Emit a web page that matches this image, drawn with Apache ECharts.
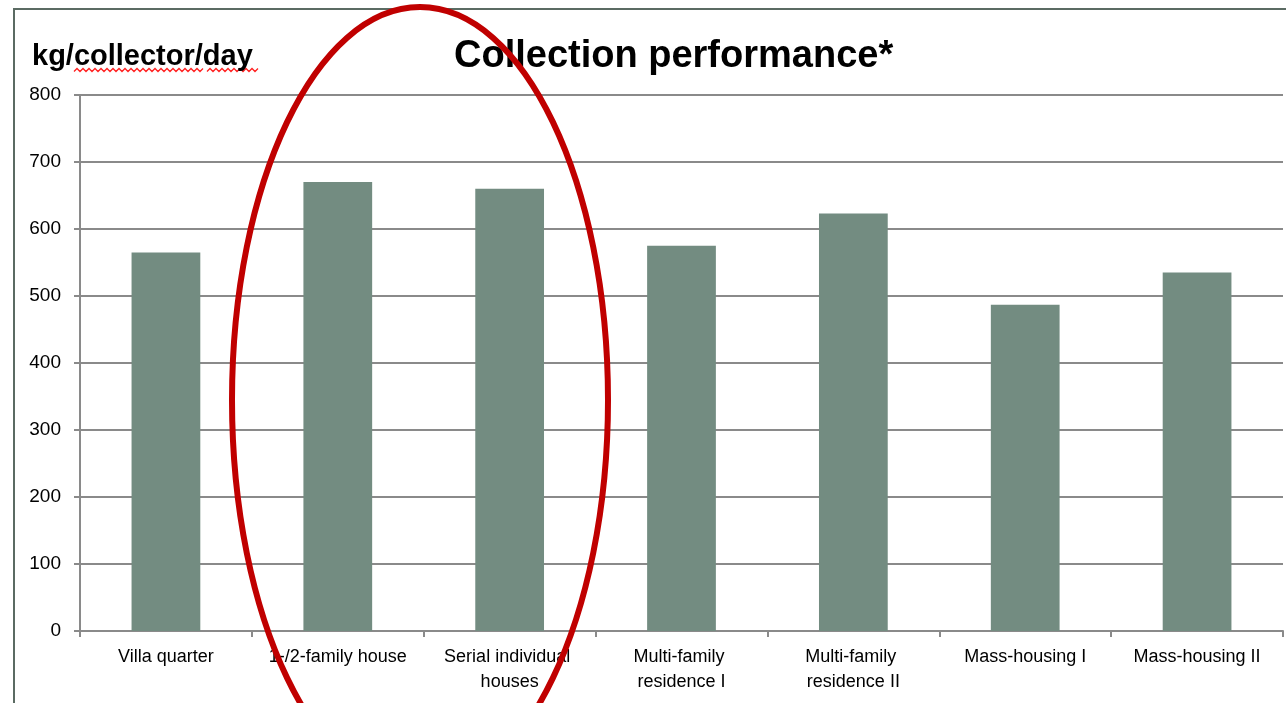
<!DOCTYPE html>
<html>
<head>
<meta charset="utf-8">
<style>
  html, body { margin: 0; padding: 0; background: #fff; }
  #main { width: 1286px; height: 703px; }
</style>
<script src="https://cdn.jsdelivr.net/npm/echarts@6/dist/echarts.min.js"></script>
</head>
<body>
<div id="main"></div>
<script>
// categories and values
var categories = ['Villa quarter', '1-/2-family house', 'Serial individual houses',
  'Multi-family residence I', 'Multi-family residence II', 'Mass-housing I', 'Mass-housing II'];
var performance = [565, 670, 660, 575, 623, 487, 535];
var yTicks = { min: 0, max: 800, interval: 100 };

// spell-check squiggle under the unit label (decoration only)
function squiggle(x0, x1, y) {
  var pts = [];
  for (var x = x0, k = 0; x <= x1; x += 3, k++) {
    pts.push([x, y + (k % 2 ? -1.5 : 1.5)]);
  }
  return pts;
}

var myChart = echarts.init(document.getElementById('main'));

var option = {
  backgroundColor: '#fff',
  animation: false,
  title: [
    {
      text: 'Collection performance*',
      left: 449, top: 33,
      textStyle: { fontFamily: 'Liberation Sans, Arial', fontWeight: 'bold', fontSize: 38, color: '#000' }
    },
    {
      text: 'kg/collector/day',
      left: 27, top: 37,
      textStyle: { fontFamily: 'Liberation Sans, Arial', fontWeight: 'bold', fontSize: 29, color: '#000' }
    }
  ],
  grid: { left: 80, right: 3, top: 95, bottom: 72 },
  xAxis: {
    type: 'category',
    data: categories,
    axisLine: { lineStyle: { color: '#8a8a8a', width: 2 } },
    axisTick: { show: true, length: 6, lineStyle: { color: '#8a8a8a', width: 2 } },
    axisLabel: {
      interval: 0, margin: 14, color: '#000', fontSize: 18, lineHeight: 25,
      fontFamily: 'Liberation Sans, Arial', width: 150, overflow: 'break'
    }
  },
  yAxis: {
    type: 'value',
    min: yTicks.min, max: yTicks.max, interval: yTicks.interval,
    axisLine: { show: true, lineStyle: { color: '#8a8a8a', width: 2 } },
    axisTick: { show: true, length: 6, lineStyle: { color: '#8a8a8a', width: 2 } },
    splitLine: { lineStyle: { color: '#8a8a8a', width: 2 } },
    axisLabel: { margin: 19, color: '#000', fontSize: 19, fontFamily: 'Liberation Sans, Arial' }
  },
  series: [
    {
      type: 'bar',
      data: performance,
      barWidth: '40%',
      itemStyle: { color: '#738c81' }
    }
  ],
  graphic: [
    {
      // outer frame of the slide
      type: 'polyline', silent: true,
      shape: { points: [[14, 703], [14, 9], [1286, 9]] },
      style: { stroke: '#5b6b63', lineWidth: 2, fill: null }
    },
    {
      type: 'polyline', silent: true,
      shape: { points: squiggle(74, 203, 70) },
      style: { stroke: '#ff2020', lineWidth: 1.3, fill: null }
    },
    {
      type: 'polyline', silent: true,
      shape: { points: squiggle(207, 260, 70) },
      style: { stroke: '#ff2020', lineWidth: 1.3, fill: null }
    },
    {
      // red highlight around the single-family categories
      type: 'ellipse', silent: true, z: 100,
      shape: { cx: 420, cy: 400, rx: 188, ry: 393 },
      style: { stroke: '#c00000', lineWidth: 6, fill: null }
    }
  ]
};
myChart.setOption(option);
</script>
</body>
</html>
